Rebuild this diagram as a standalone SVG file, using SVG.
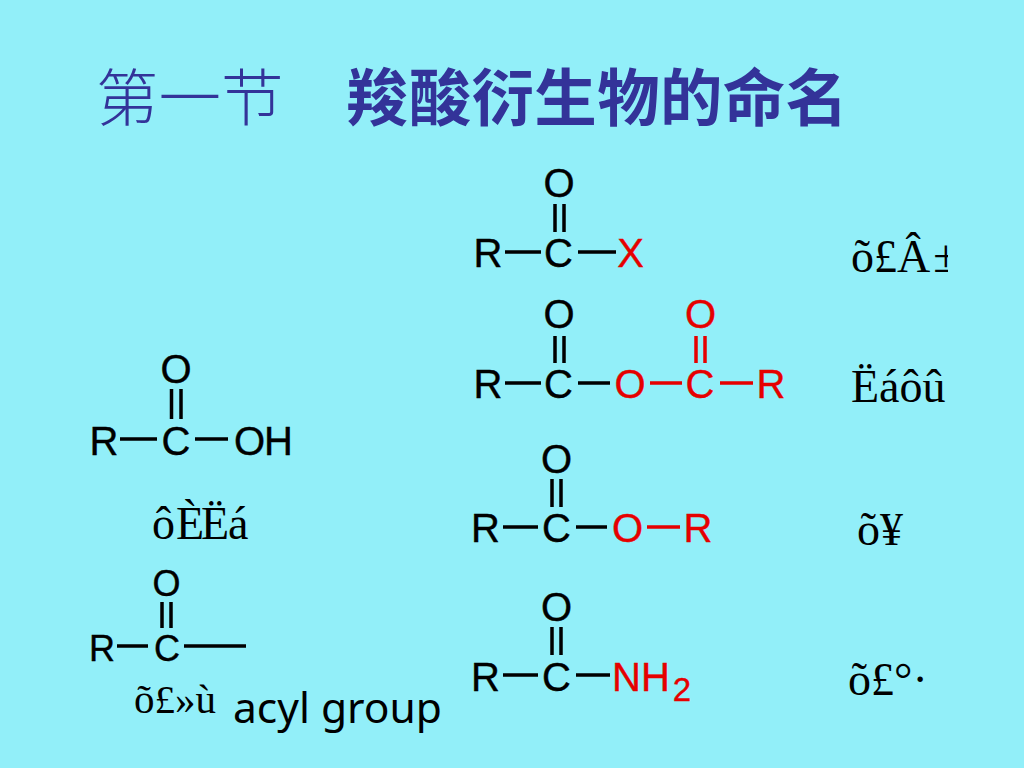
<svg xmlns="http://www.w3.org/2000/svg" width="1024" height="768" viewBox="0 0 1024 768">
<style>
.a{font-family:"Liberation Sans",Arial,sans-serif;font-size:40px;fill:#000;stroke:#000;stroke-width:.4;text-anchor:middle}
.s{font-size:36px}
.r{fill:#e60000;stroke:#e60000}
.t{font-family:"Liberation Serif","Times New Roman",serif;font-size:46px;fill:#000}
.h{font-family:"Noto Sans CJK SC",sans-serif;font-size:62.500px;fill:#333399}
.b{stroke:#000;stroke-width:3.500;fill:none}
.br{stroke:#e60000;stroke-width:3.500;fill:none}
</style>
<defs><clipPath id="cl"><rect x="840" y="220" width="108" height="60"/></clipPath></defs>
<rect width="1024" height="768" fill="#92eff9"/>
<g id="title">
<text class="h" x="96" y="121" font-weight="300">第一节</text>
<text class="h" x="346" y="121" font-weight="700" textLength="502" lengthAdjust="spacing">羧酸衍生物的命名</text>
</g>
<g id="connectors">
<path class="b" d="M120 439H157M195 439H228M171.500 389V419M181 389V419"/>
<path class="b" d="M117 646H148M184 646H246M162 602V628M171 602V628"/>
<path class="b" d="M505 252H541M578 252H616M555 204V232M564 204V232"/>
<path class="b" d="M505 383H541M578 383H610M555 336V363M564 336V363"/>
<path class="br" d="M650 383H682M720 383H753M696 336V363M705 336V363"/>
<path class="b" d="M503 527H538M576 527H607M552 479V507M561 479V507"/>
<path class="br" d="M647 527H680"/>
<path class="b" d="M503 675H538M576 675H610M552 627V655M561 627V655"/>
</g>
<g id="acid">
<text class="a" x="176" y="383">O</text><text class="a" x="104" y="455">R</text><text class="a" x="176" y="455">C</text><text class="a" x="263.500" y="455" textLength="59">OH</text>
<text class="t" x="152" y="539">ô</text><text class="t" x="176" y="539">È</text><text class="t" x="201" y="539">Ë</text><text class="t" x="228" y="539">á</text>
</g>
<g id="acyl">
<text class="a s" x="166.500" y="596">O</text><text class="a s" x="102" y="661">R</text><text class="a s" x="167" y="661">C</text>
<text class="t" x="134" y="713" style="font-size:41px">õ£»ù</text>
<text x="233" y="723" font-family="Noto Sans,sans-serif" font-size="42.500" fill="#000">acyl group</text>
</g>
<g id="acyl-halide">
<text class="a" x="559" y="197">O</text><text class="a" x="488" y="267">R</text><text class="a" x="558.500" y="267">C</text><text class="a r" x="630.500" y="267">X</text>
<text class="t" x="851" y="272" clip-path="url(#cl)">õ£Â<tspan dx="3">±</tspan></text>
</g>
<g id="anhydride">
<text class="a" x="559" y="328">O</text><text class="a" x="488" y="398">R</text><text class="a" x="558.500" y="398">C</text>
<text class="a r" x="630" y="398">O</text><text class="a r" x="700" y="398">C</text><text class="a r" x="771" y="398">R</text><text class="a r" x="700.500" y="328">O</text>
<text class="t" x="851" y="402">Ëáôû</text>
</g>
<g id="ester">
<text class="a" x="556.500" y="473">O</text><text class="a" x="485.500" y="542">R</text><text class="a" x="556.500" y="542">C</text>
<text class="a r" x="627.500" y="542">O</text><text class="a r" x="698" y="542">R</text>
<text class="t" x="857" y="545">õ¥</text>
</g>
<g id="amide">
<text class="a" x="556.500" y="621">O</text><text class="a" x="485.500" y="691">R</text><text class="a" x="556.500" y="691">C</text>
<text class="a r" x="641" y="691">NH</text><text class="a r" x="682" y="701" style="font-size:33px">2</text>
<text class="t" x="848" y="695">õ£°·</text>
</g>
</svg>
